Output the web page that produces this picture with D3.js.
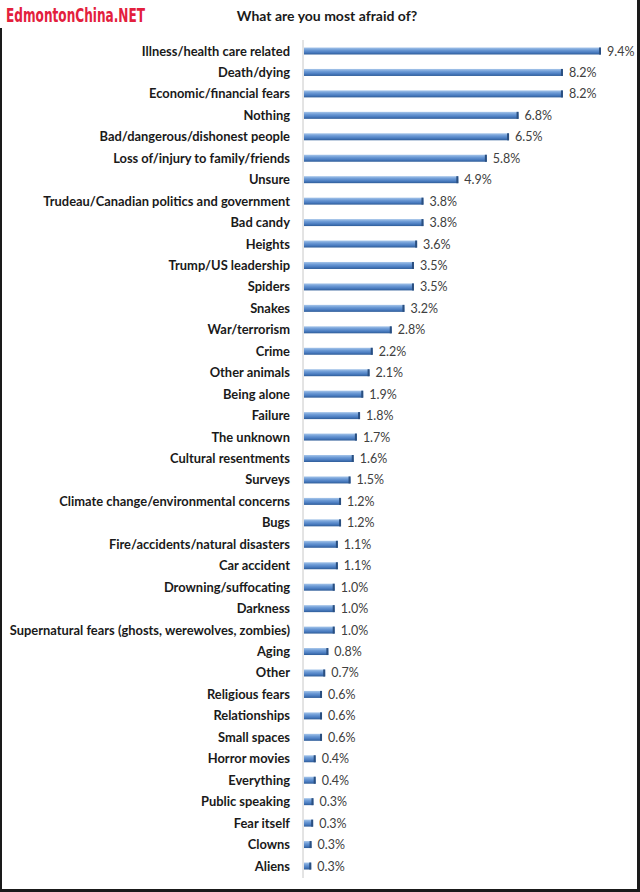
<!DOCTYPE html>
<html><head><meta charset="utf-8">
<script src="https://cdn.jsdelivr.net/npm/d3@7"></script>
<style>html,body{margin:0;padding:0;background:#fff;}svg{display:block;}</style>
</head><body>
<svg id="c" width="640" height="892"></svg>
<script>
const title = "What are you most afraid of?";
const watermark = "EdmontonChina.NET";
const categories = [
  "Illness/health care related","Death/dying","Economic/financial fears","Nothing",
  "Bad/dangerous/dishonest people","Loss of/injury to family/friends","Unsure",
  "Trudeau/Canadian politics and government","Bad candy","Heights","Trump/US leadership",
  "Spiders","Snakes","War/terrorism","Crime","Other animals","Being alone","Failure",
  "The unknown","Cultural resentments","Surveys","Climate change/environmental concerns",
  "Bugs","Fire/accidents/natural disasters","Car accident","Drowning/suffocating","Darkness",
  "Supernatural fears (ghosts, werewolves, zombies)","Aging","Other","Religious fears",
  "Relationships","Small spaces","Horror movies","Everything","Public speaking",
  "Fear itself","Clowns","Aliens"
];
const values = [9.4,8.2,8.2,6.8,6.5,5.8,4.9,3.8,3.8,3.6,3.5,3.5,3.2,2.8,2.2,2.1,1.9,1.8,
  1.7,1.6,1.5,1.2,1.2,1.1,1.1,1.0,1.0,1.0,0.8,0.7,0.6,0.6,0.6,0.4,0.4,0.33,0.32,0.27,0.26];

const svg = d3.select("#c");
const defs = svg.append("defs");
const g = defs.append("linearGradient").attr("id","bar").attr("x1",0).attr("y1",0).attr("x2",0).attr("y2",1);
g.append("stop").attr("offset","0%").attr("stop-color","#a7c6ea");
g.append("stop").attr("offset","35%").attr("stop-color","#6d9bd6");
g.append("stop").attr("offset","70%").attr("stop-color","#4a7cc0");
g.append("stop").attr("offset","100%").attr("stop-color","#2e5c98");

// border
svg.append("rect").attr("x",0).attr("y",28).attr("width",2).attr("height",864).attr("fill","#1a1a1a");
svg.append("rect").attr("x",637).attr("y",0).attr("width",3).attr("height",892).attr("fill","#1a1a1a");
svg.append("rect").attr("x",0).attr("y",889).attr("width",640).attr("height",3).attr("fill","#1a1a1a");

const x = d3.scaleLinear().domain([0,10]).range([303, 303+317]);
const y = d3.scalePoint().domain(categories).range([51, 866]);

svg.append("text").attr("x",6).attr("y",22)
  .attr("font-family","'Liberation Sans Narrow','DejaVu Sans Condensed',sans-serif")
  .attr("font-weight","700").attr("font-size",19).attr("fill","#e3203d")
  .attr("textLength",139).attr("lengthAdjust","spacingAndGlyphs").text(watermark);

svg.append("text").attr("x",327).attr("y",21).attr("text-anchor","middle")
  .attr("font-family","Lato, sans-serif").attr("font-weight","700").attr("font-size",14)
  .attr("fill","#1a1a1a").text(title);

// axis line
svg.append("line").attr("x1",x(0)).attr("x2",x(0)).attr("y1",40).attr("y2",878)
  .attr("stroke","#c8c8c8").attr("stroke-width",1);

const data = categories.map((c,i)=>({c, v: values[i]}));

const rows = svg.append("g").selectAll("g").data(data).join("g");
rows.append("rect").attr("x",x(0)+1).attr("y",d=>y(d.c)-3.5)
  .attr("width",d=>x(d.v)-x(0)-1).attr("height",7).attr("fill","url(#bar)");
rows.append("rect").attr("x",d=>x(d.v)-2).attr("y",d=>y(d.c)-3.5)
  .attr("width",2).attr("height",7).attr("fill","#2a4f80");

rows.append("text").attr("x",x(0)-13).attr("y",d=>y(d.c)+4.5).attr("text-anchor","end")
  .attr("font-family","Lato, sans-serif").attr("font-weight","700").attr("font-size",12.9)
  .attr("fill","#1a1a1a").text(d=>d.c);

rows.append("text").attr("x",d=>x(d.v)+6).attr("y",d=>y(d.c)+4.5)
  .attr("font-family","Lato, sans-serif").attr("font-size",12.5)
  .attr("fill","#404040").text(d=>d.v.toFixed(1)+"%");
</script>
</body></html>
